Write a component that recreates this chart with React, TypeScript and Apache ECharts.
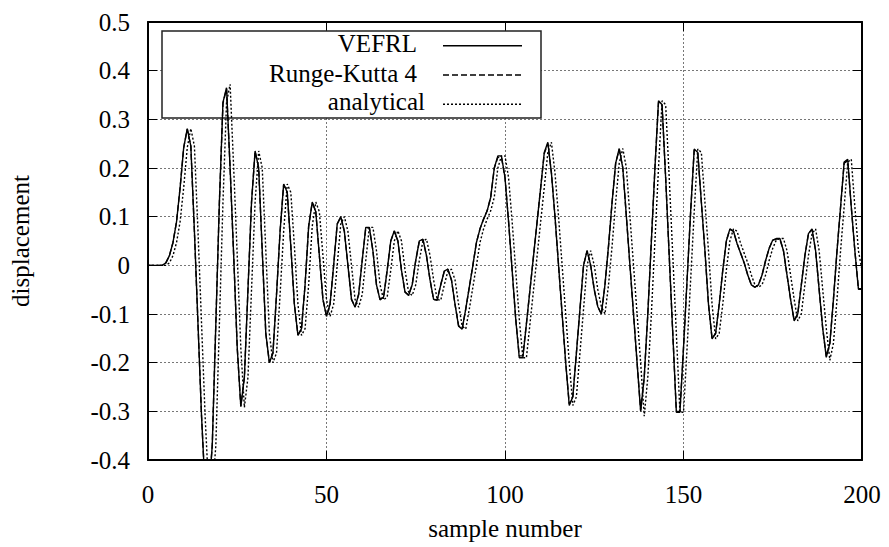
import React, { useEffect, useRef } from "react";
import * as echarts from "echarts";

// ---- data, one value per sample number 0..200 ----
const vefrl: number[] = [
  0, 0, 0, 0, 0, 0.005, 0.02, 0.047, 0.09, 0.16,
  0.242, 0.281, 0.245, 0.07, -0.12, -0.31, -0.46, -0.47, -0.37, -0.12,
  0.13, 0.335, 0.365, 0.2, 0.02, -0.17, -0.29, -0.23, -0.05, 0.13,
  0.235, 0.2, 0.03, -0.14, -0.2, -0.18, -0.06, 0.07, 0.167, 0.15,
  0.04, -0.08, -0.144, -0.13, -0.04, 0.08, 0.13, 0.11, 0.02, -0.07,
  -0.105, -0.08, 0.0, 0.085, 0.1, 0.07, 0.0, -0.07, -0.086, -0.06,
  0.01, 0.078, 0.078, 0.03, -0.04, -0.071, -0.065, -0.01, 0.05, 0.071,
  0.05, -0.01, -0.055, -0.062, -0.04, 0.01, 0.05, 0.054, 0.02, -0.03,
  -0.07, -0.072, -0.04, -0.012, -0.008, -0.03, -0.08, -0.125, -0.131, -0.09,
  -0.045, 0.0, 0.047, 0.075, 0.095, 0.112, 0.14, 0.2, 0.225, 0.225,
  0.18, 0.09, -0.01, -0.11, -0.19, -0.19, -0.12, -0.05, 0.02, 0.09,
  0.16, 0.232, 0.253, 0.19, 0.1, 0.0, -0.1, -0.2, -0.288, -0.27,
  -0.18, -0.09, 0.0, 0.03, 0.0, -0.05, -0.085, -0.1, -0.04, 0.04,
  0.13, 0.21, 0.24, 0.2, 0.1, 0.0, -0.1, -0.2, -0.3, -0.23,
  -0.1, 0.05, 0.2, 0.338, 0.33, 0.18, 0.02, -0.14, -0.302, -0.302,
  -0.17, -0.03, 0.11, 0.239, 0.232, 0.13, 0.03, -0.08, -0.151, -0.14,
  -0.08, -0.01, 0.05, 0.075, 0.07, 0.045, 0.025, 0.005, -0.02, -0.04,
  -0.045, -0.04, -0.02, 0.01, 0.035, 0.052, 0.055, 0.055, 0.03, -0.02,
  -0.07, -0.114, -0.1, -0.04, 0.02, 0.065, 0.075, 0.03, -0.05, -0.13,
  -0.189, -0.16, -0.07, 0.03, 0.12, 0.212, 0.218, 0.12, 0.03, -0.049,
  -0.049,
];

const rungeKutta4: number[] = [
  0, 0, 0, 0, 0, 0.005, 0.02, 0.047, 0.09, 0.16,
  0.242, 0.28, 0.245, 0.07, -0.12, -0.31, -0.46, -0.47, -0.37, -0.12,
  0.13, 0.333, 0.363, 0.2, 0.02, -0.17, -0.29, -0.23, -0.05, 0.13,
  0.234, 0.2, 0.03, -0.14, -0.2, -0.18, -0.06, 0.07, 0.166, 0.15,
  0.04, -0.08, -0.143, -0.13, -0.04, 0.08, 0.129, 0.11, 0.02, -0.07,
  -0.104, -0.08, 0.0, 0.085, 0.099, 0.07, 0.0, -0.07, -0.085, -0.06,
  0.01, 0.077, 0.077, 0.03, -0.04, -0.07, -0.065, -0.01, 0.05, 0.07,
  0.05, -0.01, -0.055, -0.061, -0.04, 0.01, 0.05, 0.053, 0.02, -0.03,
  -0.07, -0.071, -0.04, -0.012, -0.008, -0.03, -0.08, -0.124, -0.13, -0.09,
  -0.045, 0.0, 0.047, 0.075, 0.095, 0.112, 0.14, 0.2, 0.222, 0.222,
  0.18, 0.09, -0.01, -0.11, -0.186, -0.186, -0.12, -0.05, 0.02, 0.09,
  0.16, 0.23, 0.25, 0.19, 0.1, 0.0, -0.1, -0.2, -0.285, -0.27,
  -0.18, -0.09, 0.0, 0.03, 0.0, -0.05, -0.085, -0.1, -0.04, 0.04,
  0.13, 0.21, 0.238, 0.2, 0.1, 0.0, -0.1, -0.2, -0.298, -0.23,
  -0.1, 0.05, 0.2, 0.335, 0.328, 0.18, 0.02, -0.14, -0.3, -0.3,
  -0.17, -0.03, 0.11, 0.237, 0.23, 0.13, 0.03, -0.08, -0.15, -0.14,
  -0.08, -0.01, 0.05, 0.074, 0.07, 0.045, 0.025, 0.005, -0.02, -0.04,
  -0.045, -0.04, -0.02, 0.01, 0.035, 0.052, 0.054, 0.054, 0.03, -0.02,
  -0.07, -0.113, -0.1, -0.04, 0.02, 0.065, 0.074, 0.03, -0.05, -0.13,
  -0.187, -0.16, -0.07, 0.03, 0.12, 0.21, 0.215, 0.12, 0.03, -0.048,
  -0.048,
];

const analytical: number[] = [
  0, 0, 0, 0, 0, 0, 0.005, 0.02, 0.047, 0.09,
  0.16, 0.242, 0.281, 0.245, 0.07, -0.12, -0.31, -0.46, -0.47, -0.37,
  -0.12, 0.13, 0.335, 0.372, 0.2, 0.02, -0.17, -0.292, -0.23, -0.05,
  0.13, 0.235, 0.2, 0.03, -0.14, -0.2, -0.18, -0.06, 0.07, 0.167,
  0.15, 0.04, -0.08, -0.144, -0.13, -0.04, 0.08, 0.13, 0.11, 0.02,
  -0.07, -0.105, -0.08, 0.0, 0.085, 0.1, 0.07, 0.0, -0.07, -0.086,
  -0.06, 0.01, 0.078, 0.078, 0.03, -0.04, -0.071, -0.065, -0.01, 0.05,
  0.071, 0.05, -0.01, -0.055, -0.062, -0.04, 0.01, 0.05, 0.054, 0.02,
  -0.03, -0.07, -0.072, -0.04, -0.012, -0.008, -0.03, -0.08, -0.125, -0.131,
  -0.09, -0.045, 0.0, 0.047, 0.075, 0.095, 0.112, 0.14, 0.2, 0.225,
  0.225, 0.18, 0.09, -0.01, -0.11, -0.19, -0.19, -0.12, -0.05, 0.02,
  0.09, 0.16, 0.232, 0.253, 0.19, 0.1, 0.0, -0.1, -0.2, -0.288,
  -0.27, -0.18, -0.09, 0.0, 0.03, 0.0, -0.05, -0.085, -0.1, -0.04,
  0.04, 0.13, 0.21, 0.24, 0.2, 0.1, 0.0, -0.1, -0.2, -0.31,
  -0.23, -0.1, 0.05, 0.2, 0.338, 0.33, 0.18, 0.02, -0.14, -0.302,
  -0.302, -0.17, -0.03, 0.11, 0.239, 0.232, 0.13, 0.03, -0.08, -0.151,
  -0.14, -0.08, -0.01, 0.05, 0.075, 0.07, 0.045, 0.025, 0.005, -0.02,
  -0.04, -0.045, -0.04, -0.02, 0.01, 0.035, 0.052, 0.055, 0.055, 0.03,
  -0.02, -0.07, -0.114, -0.1, -0.04, 0.02, 0.065, 0.075, 0.03, -0.05,
  -0.13, -0.195, -0.16, -0.07, 0.03, 0.12, 0.212, 0.218, 0.12, 0.03,
  -0.01,
];

const seriesNames = ["VEFRL", "Runge-Kutta 4", "analytical"];
const xLabelTitle = "sample number";
const yLabelTitle = "displacement";

const FONT = "Liberation Serif";

export default function App() {
  const ref = useRef<HTMLDivElement>(null);

  useEffect(() => {
    if (!ref.current) return;
    const chart = echarts.init(ref.current, null, { renderer: "svg" });

    const frame = { onZero: false, lineStyle: { color: "#000", width: 2 } };
    const ticks = { inside: true, length: 9, lineStyle: { color: "#000", width: 1 } };
    const grid = { show: true, lineStyle: { color: "#777", width: 1, type: [2, 2] } };
    const labelFont = { fontFamily: FONT, fontSize: 25, color: "#000" };

    const toPairs = (arr: number[]) => arr.map((v, i) => [i, v]);
    const dashes: any[] = ["solid", [6, 3], [2, 2]];
    const datasets = [vefrl, rungeKutta4, analytical];

    const legendRows = [
      { y: 45.7, textY: 43.5, right: 417 },
      { y: 75, textY: 73.5, right: 417 },
      { y: 104.3, textY: 101.8, right: 425 },
    ];

    chart.setOption({
      animation: false,
      backgroundColor: "#fff",
      grid: { left: 144, right: 27, top: 22, bottom: 87, containLabel: false },
      xAxis: [
        {
          type: "value",
          min: 0,
          max: 200,
          interval: 50,
          position: "bottom",
          name: xLabelTitle,
          nameLocation: "middle",
          nameGap: 56,
          nameTextStyle: labelFont,
          axisLine: frame,
          axisTick: ticks,
          axisLabel: { ...labelFont, margin: 22 },
          splitLine: grid,
        },
        {
          type: "value",
          min: 0,
          max: 200,
          interval: 50,
          position: "top",
          axisLine: frame,
          axisTick: ticks,
          axisLabel: { show: false },
          splitLine: { show: false },
        },
      ],
      yAxis: [
        {
          type: "value",
          min: -0.4,
          max: 0.5,
          interval: 0.1,
          position: "left",
          name: yLabelTitle,
          nameLocation: "middle",
          nameRotate: 90,
          nameGap: 115,
          nameTextStyle: labelFont,
          axisLine: frame,
          axisTick: ticks,
          axisLabel: {
            ...labelFont,
            margin: 18,
            formatter: (v: number) => String(Math.round(v * 10) / 10),
          },
          splitLine: grid,
        },
        {
          type: "value",
          min: -0.4,
          max: 0.5,
          interval: 0.1,
          position: "right",
          axisLine: frame,
          axisTick: ticks,
          axisLabel: { show: false },
          splitLine: { show: false },
        },
      ],
      series: datasets.map((d, i) => ({
        type: "line",
        name: seriesNames[i],
        data: toPairs(d),
        xAxisIndex: 0,
        yAxisIndex: 0,
        symbol: "none",
        showSymbol: false,
        silent: true,
        clip: true,
        z: 2 + i * 0.1,
        lineStyle: { color: "#000", width: 1.4, type: dashes[i] },
        emphasis: { disabled: true },
      })),
      graphic: [
        {
          type: "rect",
          z: 1,
          silent: true,
          shape: { x: 162, y: 31, width: 379, height: 87 },
          style: { fill: "#fff", stroke: "#222", lineWidth: 1.5 },
        },
        ...seriesNames.map((name, i) => ({
          type: "text",
          z: 5,
          silent: true,
          x: legendRows[i].right,
          y: legendRows[i].textY,
          style: {
            text: name,
            fontFamily: FONT,
            fontSize: 25,
            fill: "#000",
            align: "right",
            verticalAlign: "middle",
          },
        })),
        ...seriesNames.map((_, i) => ({
          type: "line",
          z: 5,
          silent: true,
          shape: { x1: 443, y1: legendRows[i].y, x2: 522, y2: legendRows[i].y },
          style: {
            stroke: "#000",
            lineWidth: 1.4,
            lineDash: i === 0 ? null : dashes[i],
          },
        })),
      ],
    });

    return () => chart.dispose();
  }, []);

  return (
    <div
      ref={ref}
      style={{ position: "fixed", left: 0, top: 0, width: 889, height: 547, background: "#fff" }}
    />
  );
}
